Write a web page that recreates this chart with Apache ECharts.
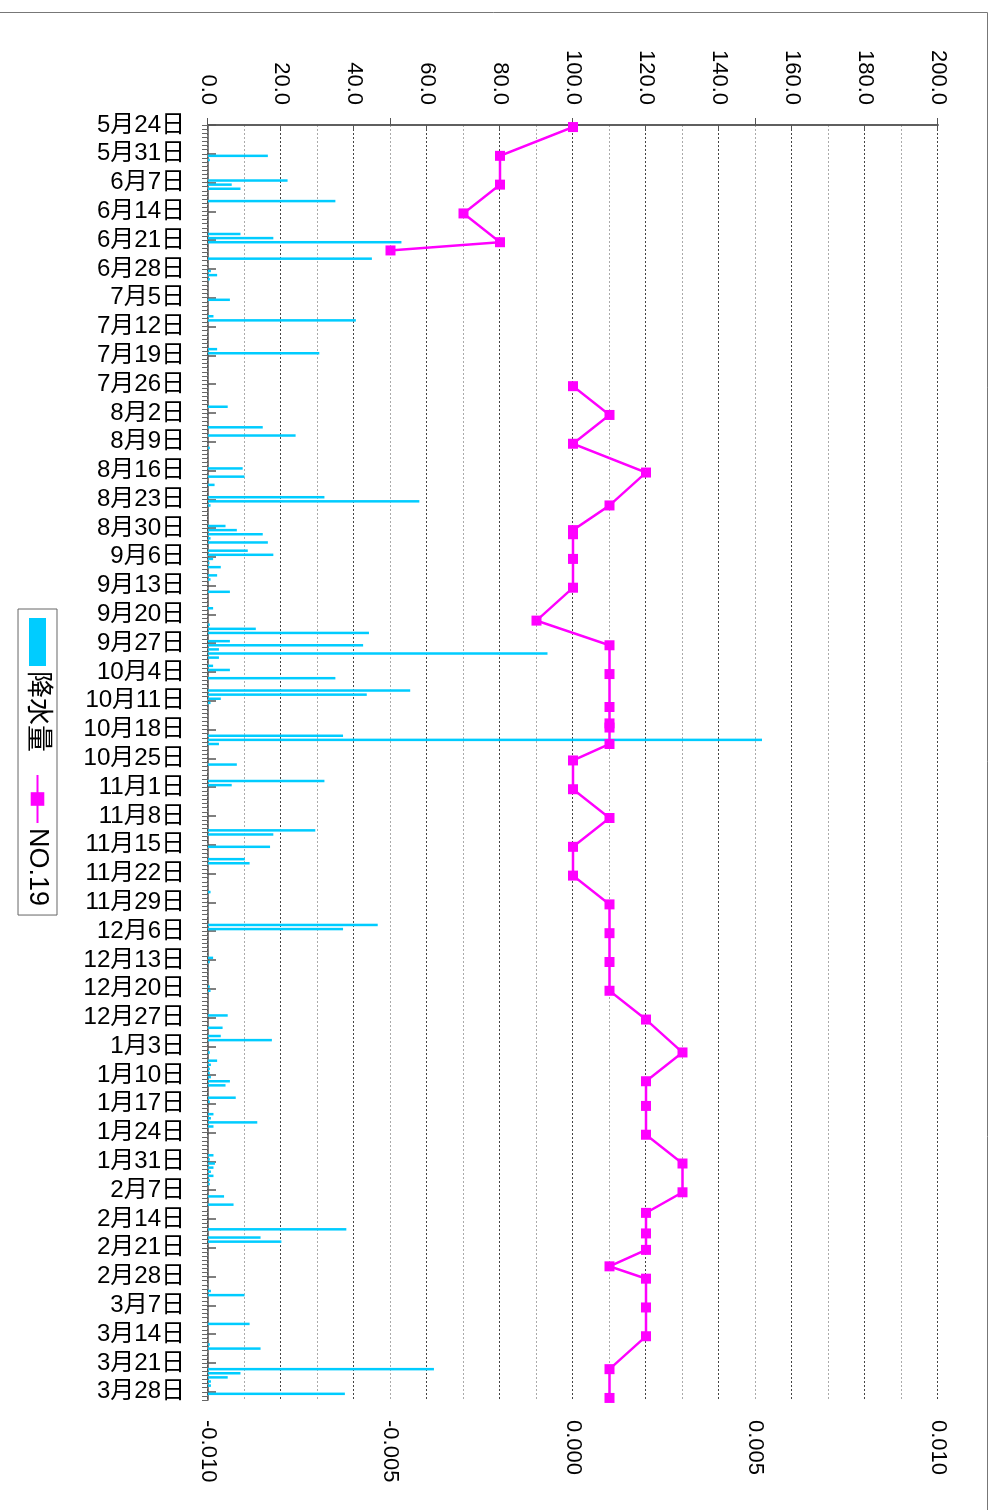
<!DOCTYPE html>
<html>
<head>
<meta charset="utf-8">
<script src="https://cdn.jsdelivr.net/npm/echarts/dist/echarts.min.js"></script>
<style>
html,body{margin:0;padding:0;width:994px;height:1510px;overflow:hidden;background:#fff;}
#wrap{position:absolute;left:0;top:0;width:1510px;height:994px;transform-origin:0 0;transform:translate(994px,0) rotate(90deg);}
#chart{width:1510px;height:994px;}
</style>
</head>
<body>
<div id="wrap"><div id="chart"></div></div>
<script>
// ---- data ----
const startDate = '2014-05-24';
const axisEndDate = '2015-03-30';

const rainDates = [
 '2014-05-31','2014-06-01','2014-06-06','2014-06-07','2014-06-08','2014-06-11','2014-06-19','2014-06-20','2014-06-21','2014-06-25',
 '2014-06-28','2014-06-29','2014-06-30','2014-07-05','2014-07-09','2014-07-10','2014-07-17','2014-07-18','2014-07-31','2014-08-05',
 '2014-08-07','2014-08-10','2014-08-15','2014-08-17','2014-08-19','2014-08-22','2014-08-23','2014-08-24','2014-08-29','2014-08-30',
 '2014-08-31','2014-09-01','2014-09-02','2014-09-04','2014-09-05','2014-09-06','2014-09-07','2014-09-08','2014-09-10','2014-09-11',
 '2014-09-14','2014-09-18','2014-09-22','2014-09-23','2014-09-24','2014-09-26','2014-09-27','2014-09-28','2014-09-29','2014-09-30',
 '2014-10-02','2014-10-03','2014-10-05','2014-10-08','2014-10-09','2014-10-10','2014-10-11','2014-10-19','2014-10-20','2014-10-21',
 '2014-10-26','2014-10-30','2014-10-31','2014-11-11','2014-11-12','2014-11-15','2014-11-18','2014-11-19','2014-11-26','2014-12-04',
 '2014-12-05','2014-12-12','2014-12-13','2014-12-19','2014-12-20','2014-12-26','2014-12-29','2014-12-31','2015-01-01','2015-01-04',
 '2015-01-06','2015-01-07','2015-01-08','2015-01-09','2015-01-10','2015-01-11','2015-01-12','2015-01-15','2015-01-16','2015-01-19',
 '2015-01-20','2015-01-21','2015-01-22','2015-01-29','2015-01-30','2015-01-31','2015-02-01','2015-02-02','2015-02-03','2015-02-04',
 '2015-02-05','2015-02-08','2015-02-10','2015-02-16','2015-02-18','2015-02-19','2015-03-03','2015-03-04','2015-03-11','2015-03-16',
 '2015-03-17','2015-03-22','2015-03-23','2015-03-24','2015-03-25','2015-03-26','2015-03-28'
];
const rainValues = [
 16.4,0.5,21.8,6.5,8.9,34.9,8.9,17.9,53.0,44.9,
 0.8,2.5,0.5,6.0,1.5,40.5,2.5,30.5,5.4,15.0,
 24.0,0.5,9.5,10.0,1.8,31.9,57.9,0.7,4.8,7.9,
 15.0,0.7,16.4,10.9,17.9,1.4,0.4,3.5,2.5,0.7,
 6.0,1.4,0.5,13.1,44.1,6.0,42.5,3.0,93.0,3.0,
 1.4,6.0,34.9,55.4,43.5,3.5,0.7,37.0,151.8,3.0,
 7.9,31.9,6.5,29.4,17.9,17.0,10.1,11.4,0.7,46.5,
 37.0,1.4,0.5,0.5,0.7,5.4,4.0,3.5,17.5,0.5,
 2.5,0.8,0.5,0.5,0.8,6.0,4.8,7.6,0.5,1.5,
 0.8,13.5,1.5,1.5,0.5,1.9,1.5,0.8,1.5,0.5,
 0.5,4.4,7.0,37.9,14.4,20.1,0.8,10.0,11.4,0.5,
 14.4,61.9,8.9,5.4,0.8,0.8,37.5
];

const no19Dates = [
 '2014-05-24','2014-05-31','2014-06-07','2014-06-14','2014-06-21','2014-06-23','2014-07-12',
 '2014-07-26','2014-08-02','2014-08-09','2014-08-16','2014-08-24','2014-08-30','2014-08-31','2014-09-06',
 '2014-09-13','2014-09-21','2014-09-27','2014-10-04','2014-10-12','2014-10-16','2014-10-17','2014-10-21',
 '2014-10-25','2014-11-01','2014-11-08','2014-11-15','2014-11-22','2014-11-29','2014-12-06','2014-12-13',
 '2014-12-20','2014-12-27','2015-01-04','2015-01-11','2015-01-17','2015-01-24','2015-01-31','2015-02-07',
 '2015-02-12','2015-02-17','2015-02-21','2015-02-25','2015-02-28','2015-03-07','2015-03-14','2015-03-22',
 '2015-03-29'
];
const no19Values = [
 0.000,-0.002,-0.002,-0.003,-0.002,-0.005,null,
 0.000,0.001,0.000,0.002,0.001,0.000,0.000,0.000,
 0.000,-0.001,0.001,0.001,0.001,0.001,0.001,0.001,
 0.000,0.000,0.001,0.000,0.000,0.001,0.001,0.001,
 0.001,0.002,0.003,0.002,0.002,0.002,0.003,0.003,
 0.002,0.002,0.002,0.001,0.002,0.002,0.002,0.001,
 0.001
];

const precipTickLabels = ['0.0','20.0','40.0','60.0','80.0','100.0','120.0','140.0','160.0','180.0','200.0'];
const no19TickLabels = ['-0.010','-0.005','0.000','0.005','0.010'];

// ---- helpers ----
const DAY = 86400000;
const t0 = Date.parse(startDate);
function dayOf(d){ return Math.round((Date.parse(d) - t0) / DAY); }
function dateLabel(v){
  if (Math.abs(v % 7) > 1e-6) return '';
  const dt = new Date(t0 + v * DAY);
  return (dt.getUTCMonth() + 1) + '月' + dt.getUTCDate() + '日';
}
const FONT = "'Liberation Sans','Noto Sans CJK JP',sans-serif";
const axisEnd = dayOf(axisEndDate);

const chart = echarts.init(document.getElementById('chart'), null, {width:1510, height:994});
chart.setOption({
  animation: false,
  backgroundColor: '#ffffff',
  textStyle: {fontFamily: FONT},
  grid: {left: 125, right: 110, top: 56, bottom: 208, containLabel: false},
  graphic: [{
    type: 'rect', silent: true, z: 0,
    shape: {x: 12.5, y: 6.5, width: 1700, height: 1200},
    style: {fill: 'none', stroke: '#777', lineWidth: 1}
  }],
  legend: {
    left: 609, top: 937, orient: 'horizontal',
    itemWidth: 48, itemHeight: 17, itemGap: 22,
    padding: [6, 9], borderColor: '#666', borderWidth: 1, backgroundColor: '#fff',
    textStyle: {fontSize: 27, color: '#000', fontFamily: FONT},
    data: [{name: '降水量', icon: 'rect'}, {name: 'NO.19'}]
  },
  xAxis: [
    {
      type: 'value', min: 0, max: axisEnd, interval: 7, position: 'bottom',
      axisLine: {show: true, onZero: false, lineStyle: {color: '#555', width: 1.5}},
      axisTick: {show: true, inside: true, length: 8, lineStyle: {color: '#555', width: 1.5}},
      axisLabel: {rotate: 90, margin: 23, fontSize: 24, color: '#000', fontFamily: FONT,
                  formatter: dateLabel, showMaxLabel: false},
      splitLine: {show: false}
    },
    {
      type: 'value', min: 0, max: axisEnd, interval: 1, position: 'bottom',
      axisLine: {show: false, onZero: false},
      axisTick: {show: true, inside: false, length: 6, lineStyle: {color: '#666', width: 1}},
      axisLabel: {show: false},
      splitLine: {show: false}
    }
  ],
  yAxis: [
    {
      type: 'value', position: 'left', min: 0, max: 200, interval: 20,
      axisLine: {show: true, lineStyle: {color: '#555', width: 1.5}},
      axisTick: {show: true, inside: true, length: 5, lineStyle: {color: '#555'}},
      axisLabel: {fontSize: 22, color: '#000', margin: 20, fontFamily: FONT,
                  formatter: v => precipTickLabels[Math.round(v / 20)] || ''},
      splitLine: {show: true, lineStyle: {color: '#444', type: [2, 2], width: 1}},
      minorTick: {show: false, splitNumber: 2},
      minorSplitLine: {show: true, lineStyle: {color: '#aaa', type: [2, 2], width: 1}}
    },
    {
      type: 'value', position: 'right', min: -0.01, max: 0.01, interval: 0.005,
      axisLine: {show: true, lineStyle: {color: '#555', width: 1.5}},
      axisTick: {show: true, inside: true, length: 7, lineStyle: {color: '#555'}},
      axisLabel: {fontSize: 22, color: '#000', margin: 20, fontFamily: FONT,
                  formatter: v => no19TickLabels[Math.round((v + 0.01) / 0.005)] || ''},
      splitLine: {show: false}
    }
  ],
  series: [
    {
      name: '降水量', type: 'bar', xAxisIndex: 0, yAxisIndex: 0,
      barWidth: 2.5, itemStyle: {color: '#00CCFF'},
      data: rainDates.map((d, i) => [dayOf(d) + 0.5, rainValues[i]])
    },
    {
      name: 'NO.19', type: 'line', xAxisIndex: 0, yAxisIndex: 1,
      symbol: 'rect', symbolSize: 10, connectNulls: false, z: 5,
      lineStyle: {color: '#FF00FF', width: 2.5},
      itemStyle: {color: '#FF00FF'},
      data: no19Dates.map((d, i) => [dayOf(d) + 0.5, no19Values[i] === null ? '-' : no19Values[i]])
    }
  ]
});
</script>
</body>
</html>
